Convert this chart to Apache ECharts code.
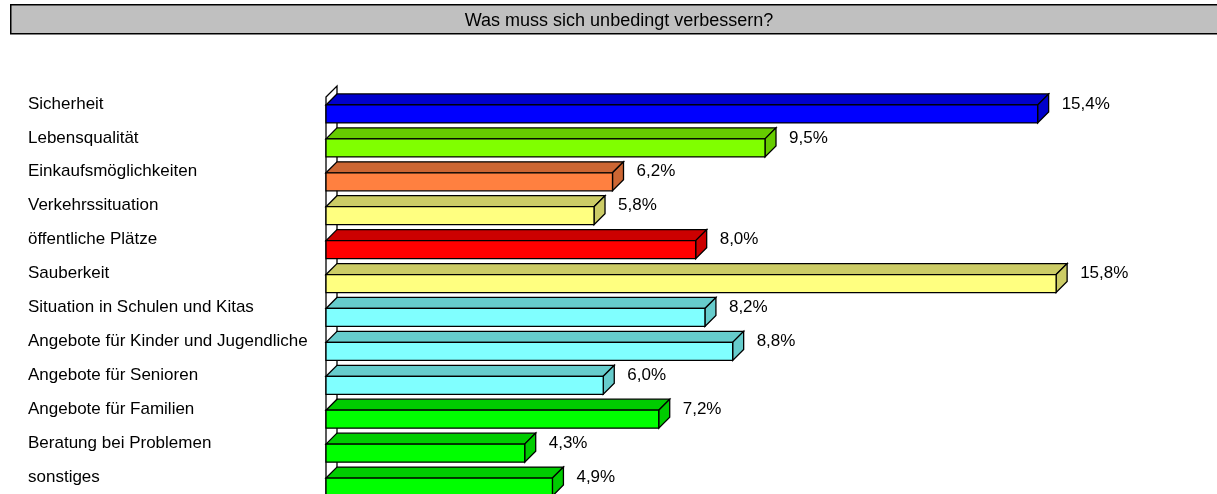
<!DOCTYPE html>
<html>
<head>
<meta charset="utf-8">
<script src="https://cdn.jsdelivr.net/npm/echarts@6/dist/echarts.min.js"></script>
<style>html,body{margin:0;padding:0;background:#fff;}#c{width:1217px;height:494px;}</style>
</head>
<body>
<div id="c"></div>
<script>
const titleText = 'Was muss sich unbedingt verbessern?';
const categories = ['Sicherheit','Lebensqualität','Einkaufsmöglichkeiten','Verkehrssituation','öffentliche Plätze','Sauberkeit','Situation in Schulen und Kitas','Angebote für Kinder und Jugendliche','Angebote für Senioren','Angebote für Familien','Beratung bei Problemen','sonstiges'];
const values = [15.4, 9.5, 6.2, 5.8, 8.0, 15.8, 8.2, 8.8, 6.0, 7.2, 4.3, 4.9];
const frontColors = ['#0000ff','#80ff00','#ff8040','#ffff80','#ff0000','#ffff80','#80ffff','#80ffff','#80ffff','#00ff00','#00ff00','#00ff00'];
const topColors = ['#0000cc','#66cc00','#cc6633','#cccc66','#cc0000','#cccc66','#66cccc','#66cccc','#66cccc','#00cc00','#00cc00','#00cc00'];

const FONT = '"Liberation Sans", Arial, sans-serif';
const D = 11;      // 3D depth offset
const H = 18;      // front face height

function fmt(v){ return v.toFixed(1).replace('.', ',') + '%'; }

function renderBar(params, api){
  const v = api.value(0), idx = api.value(1);
  const p0 = api.coord([0, idx]);
  const p1 = api.coord([v, idx]);
  const x0 = p0[0], x1 = p1[0], c = p0[1];
  const yt = c + 1, yb = c + 1 + H;
  const fc = frontColors[idx], tc = topColors[idx];
  const stroke = {stroke:'#000', lineWidth:1.3};
  return {type:'group', children:[
    {type:'polygon', shape:{points:[[x0,yt],[x0+D,yt-D],[x1+D,yt-D],[x1,yt]]}, style:Object.assign({fill:tc}, stroke)},
    {type:'polygon', shape:{points:[[x1,yt],[x1+D,yt-D],[x1+D,yb-D],[x1,yb]]}, style:Object.assign({fill:tc}, stroke)},
    {type:'rect', shape:{x:x0, y:yt, width:x1-x0, height:H}, style:Object.assign({fill:fc}, stroke)},
    {type:'text', style:{text:fmt(v), x:x1+D+13, y:c, verticalAlign:'middle', align:'left', fill:'#000', fontSize:17, fontFamily:FONT}}
  ]};
}

function renderWall(params, api){
  const pTop = api.coord([0, 0]);
  const pBot = api.coord([0, categories.length - 1]);
  const x0 = pTop[0], yTop = pTop[1] - 7, yBot = pBot[1] + 60;
  return {type:'polygon', shape:{points:[[x0,yTop],[x0+D,yTop-D],[x0+D,yBot-D],[x0,yBot]]}, style:{fill:'#fff', stroke:'#000', lineWidth:1.3}};
}

const barData = values.map((v,i)=>[v,i]);

const chart = echarts.init(document.getElementById('c'), null, {renderer:'canvas'});
chart.setOption({
  animation:false,
  backgroundColor:'#fff',
  graphic:[{type:'rect', left:10, top:4, shape:{width:1220, height:29}, style:{fill:'#c0c0c0', stroke:'#000', lineWidth:1.5}, z:0}],
  title:{text:titleText, left:614, top:7, textAlign:'center', textStyle:{fontSize:18, fontWeight:'normal', color:'#000', fontFamily:FONT}, z:10},
  grid:{left:326, right:13, top:87, bottom:-2, containLabel:false},
  xAxis:{type:'value', min:0, max:19, show:false},
  yAxis:{type:'category', data:categories, inverse:true, axisLine:{show:false}, axisTick:{show:false}, splitLine:{show:false},
    axisLabel:{align:'left', margin:298, fontSize:17, color:'#000', fontFamily:FONT}},
  series:[
    {type:'custom', renderItem:renderWall, data:[[0,0]], encode:{x:0,y:1}, clip:false, silent:true, z:1},
    {type:'custom', renderItem:renderBar, data:barData, encode:{x:0,y:1}, clip:false, z:2}
  ]
});
</script>
</body>
</html>
